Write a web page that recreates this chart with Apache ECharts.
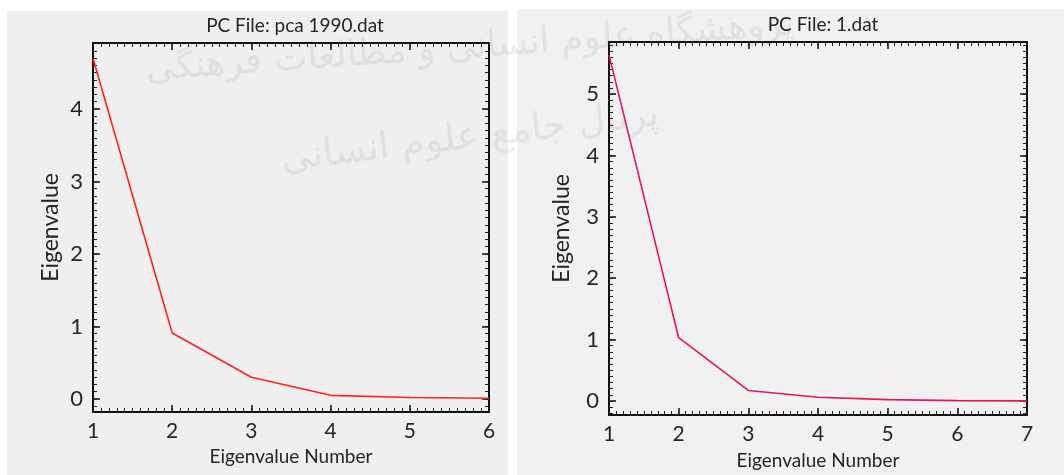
<!DOCTYPE html>
<html>
<head>
<meta charset="utf-8">
<script src="https://cdn.jsdelivr.net/npm/echarts@6/dist/echarts.min.js"></script>
<style>
html,body{margin:0;padding:0;background:#fff;}
#chart{width:1064px;height:475px;}
</style>
</head>
<body>
<div id="chart"></div>
<script>
// ---- data ----
const leftTitle = 'PC File: pca 1990.dat';
const rightTitle = 'PC File: 1.dat';
const leftNumbers = [1, 2, 3, 4, 5, 6];
const leftEigen = [4.70, 0.91, 0.30, 0.05, 0.02, 0.01];
const rightNumbers = [1, 2, 3, 4, 5, 6, 7];
const rightEigen = [5.64, 1.03, 0.17, 0.06, 0.02, 0.005, 0.0];
const leftXTicks = [1, 2, 3, 4, 5, 6];
const leftYTicks = [0, 1, 2, 3, 4];
const rightXTicks = [1, 2, 3, 4, 5, 6, 7];
const rightYTicks = [0, 1, 2, 3, 4, 5];
const xName = 'Eigenvalue Number';
const yName = 'Eigenvalue';

// ---- helpers (axis styling) ----
function minorVals(min, max, step) {
  const out = [];
  for (let v = Math.ceil(min / step) * step; v <= max + 1e-9; v += step) {
    out.push(Math.round(v * 1000) / 1000);
  }
  return out;
}
const FONT = 'Lato';
const TXT = '#252525';
const LINE = { color: '#111', width: 2 };

function xAxes(gi, min, max, ticks, nameGap) {
  const minor = minorVals(min, max, 0.1);
  const base = { gridIndex: gi, type: 'value', min: min, max: max, splitLine: { show: false } };
  return [
    Object.assign({}, base, {
      position: 'bottom',
      axisLine: { show: true, onZero: false, lineStyle: LINE },
      axisTick: { show: true, inside: true, length: 7, customValues: ticks, lineStyle: { color: '#111', width: 1.5 } },
      axisLabel: { show: true, customValues: ticks, margin: 9, fontSize: 21, fontFamily: FONT, color: TXT },
      name: xName, nameLocation: 'middle', nameGap: nameGap,
      nameTextStyle: { fontSize: 19, fontFamily: FONT, color: TXT, verticalAlign: 'top' }
    }),
    Object.assign({}, base, {
      position: 'top',
      axisLine: { show: true, onZero: false, lineStyle: LINE },
      axisTick: { show: true, inside: true, length: 7, customValues: ticks, lineStyle: { color: '#111', width: 1.5 } },
      axisLabel: { show: false }
    }),
    Object.assign({}, base, {
      position: 'bottom',
      axisLine: { show: false, onZero: false },
      axisTick: { show: true, inside: true, length: 4, customValues: minor, lineStyle: { color: '#222', width: 1 } },
      axisLabel: { show: false }
    }),
    Object.assign({}, base, {
      position: 'top',
      axisLine: { show: false, onZero: false },
      axisTick: { show: true, inside: true, length: 4, customValues: minor, lineStyle: { color: '#222', width: 1 } },
      axisLabel: { show: false }
    })
  ];
}
function yAxes(gi, min, max, ticks, nameGap) {
  const minor = minorVals(min, max, 0.1);
  const base = { gridIndex: gi, type: 'value', min: min, max: max, splitLine: { show: false } };
  return [
    Object.assign({}, base, {
      position: 'left',
      axisLine: { show: true, onZero: false, lineStyle: LINE },
      axisTick: { show: true, inside: true, length: 7, customValues: ticks, lineStyle: { color: '#111', width: 1.5 } },
      axisLabel: { show: true, customValues: ticks, margin: 10, fontSize: 22, fontFamily: FONT, color: TXT },
      name: yName, nameLocation: 'middle', nameGap: nameGap,
      nameTextStyle: { fontSize: 23, fontFamily: FONT, color: TXT }
    }),
    Object.assign({}, base, {
      position: 'right',
      axisLine: { show: true, onZero: false, lineStyle: LINE },
      axisTick: { show: true, inside: true, length: 7, customValues: ticks, lineStyle: { color: '#111', width: 1.5 } },
      axisLabel: { show: false }
    }),
    Object.assign({}, base, {
      position: 'left',
      axisLine: { show: false, onZero: false },
      axisTick: { show: true, inside: true, length: 4, customValues: minor, lineStyle: { color: '#222', width: 1 } },
      axisLabel: { show: false }
    }),
    Object.assign({}, base, {
      position: 'right',
      axisLine: { show: false, onZero: false },
      axisTick: { show: true, inside: true, length: 4, customValues: minor, lineStyle: { color: '#222', width: 1 } },
      axisLabel: { show: false }
    })
  ];
}

const chart = echarts.init(document.getElementById('chart'), null, { renderer: 'canvas' });
const option = {
  animation: false,
  backgroundColor: '#ffffff',
  graphic: [
    { type: 'rect', shape: { x: 7, y: 11, width: 501, height: 470 }, style: { fill: '#efefef' }, z: -10, silent: true },
    { type: 'rect', shape: { x: 517, y: 9, width: 547, height: 470 }, style: { fill: '#f1f1f1' }, z: -10, silent: true },
    { type: 'text', x: 470, y: 48, rotation: 0.07, z: -5, silent: true,
      style: { text: 'پژوهشگاه علوم انسانی و مطالعات فرهنگی', fontSize: 36, fontFamily: 'DejaVu Sans', fill: 'rgba(120,120,120,0.13)', align: 'center', verticalAlign: 'middle' } },
    { type: 'text', x: 470, y: 138, rotation: 0.12, z: -5, silent: true,
      style: { text: 'پرتال جامع علوم انسانی', fontSize: 38, fontFamily: 'DejaVu Sans', fill: 'rgba(120,120,120,0.13)', align: 'center', verticalAlign: 'middle' } }
  ],
  title: [
    { text: leftTitle, left: 290, top: 11, textAlign: 'center',
      textStyle: { fontSize: 19, fontWeight: 'normal', fontFamily: FONT, color: TXT } },
    { text: rightTitle, left: 818, top: 10, textAlign: 'center',
      textStyle: { fontSize: 19, fontWeight: 'normal', fontFamily: FONT, color: TXT } }
  ],
  grid: [
    { left: 93, right: 575, top: 43, bottom: 63, containLabel: false },
    { left: 609, right: 37, top: 42, bottom: 60, containLabel: false }
  ],
  xAxis: [].concat(
    xAxes(0, 1, 6, leftXTicks, 35),
    xAxes(1, 1, 7, rightXTicks, 36)
  ),
  yAxis: [].concat(
    yAxes(0, -0.18, 4.91, leftYTicks, 31),
    yAxes(1, -0.23, 5.85, rightYTicks, 36)
  ),
  series: [
    { type: 'line', xAxisIndex: 0, yAxisIndex: 0, symbol: 'none',
      lineStyle: { color: '#ff2222', width: 1.6 },
      data: leftNumbers.map((n, i) => [n, leftEigen[i]]) },
    { type: 'line', xAxisIndex: 4, yAxisIndex: 4, symbol: 'none',
      lineStyle: { color: '#e8174a', width: 1.6 },
      data: rightNumbers.map((n, i) => [n, rightEigen[i]]) }
  ]
};
chart.setOption(option);
</script>
</body>
</html>
